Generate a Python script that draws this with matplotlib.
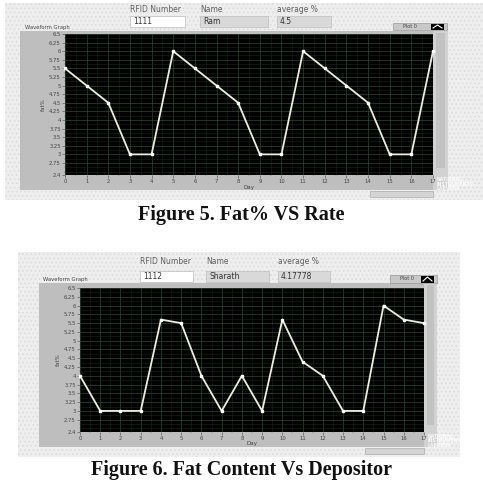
import matplotlib
matplotlib.use("Agg")
import matplotlib.pyplot as plt
from matplotlib.patches import Rectangle
from matplotlib.ticker import MultipleLocator

W = H = 483
fig = plt.figure(figsize=(4.83, 4.83), dpi=100)
fig.patch.set_facecolor("white")
plt.rcParams["hatch.linewidth"] = 0.6

days = list(range(18))
fat_ram = [5.5, 5.0, 4.5, 3.0, 3.0, 6.0, 5.5, 5.0, 4.5, 3.0, 3.0, 6.0, 5.5, 5.0, 4.5, 3.0, 3.0, 6.0]
fat_sharath = [4.0, 3.0, 3.0, 3.0, 5.6, 5.5, 4.0, 3.0, 4.0, 3.0, 5.6, 4.4, 4.0, 3.0, 3.0, 6.0, 5.6, 5.5]
yticks = [2.4, 2.75, 3, 3.25, 3.5, 3.75, 4, 4.25, 4.5, 4.75, 5, 5.25, 5.5, 5.75, 6, 6.25, 6.5]
ytick_labels = ["2.4", "2.75", "3", "3.25", "3.5", "3.75", "4", "4.25", "4.5", "4.75", "5", "5.25", "5.5", "5.75", "6", "6.25", "6.5"]

panels = [
    dict(rfid="1111", name="Ram", avg="4.5", data=fat_ram,
         caption="Figure 5. Fat% VS Rate",
         bg=(5, 3, 483, 200), frame=(20, 31, 448, 190), plot=(65, 34, 433, 175),
         hdr_y=10, box_y=(16, 27),
         rfid_x=(130, 185), name_x=(200, 268), avg_x=(277, 331),
         wf=(25, 27), legend=(393, 23, 447, 30), day_y=187, cap_y=215,
         scroll=(370, 191, 433, 197)),
    dict(rfid="1112", name="Sharath", avg="4.17778", data=fat_sharath,
         caption="Figure 6. Fat Content Vs Depositor",
         bg=(18, 252, 460, 457), frame=(39, 283, 437, 447), plot=(80, 288, 424, 432),
         hdr_y=262, box_y=(271, 282),
         rfid_x=(140, 193), name_x=(206, 269), avg_x=(278, 330),
         wf=(43, 280), legend=(390, 275, 437, 283), day_y=444, cap_y=470,
         scroll=(365, 448, 424, 454)),
]

ov = fig.add_axes([0, 0, 1, 1])
ov.set_xlim(0, W)
ov.set_ylim(H, 0)
ov.axis("off")
ov.set_zorder(0)

def rect(x0, y0, x1, y1, fc, ec="none", lw=0, **kw):
    ov.add_patch(Rectangle((x0, y0), x1 - x0, y1 - y0, facecolor=fc, edgecolor=ec, linewidth=lw, **kw))

for p in panels:
    bx0, by0, bx1, by1 = p["bg"]
    rect(bx0, by0, bx1, by1, "#eeeeee")
    rect(bx0, by0, bx1, by1, "none", ec="#dadada", lw=0, hatch="....")
    fx0, fy0, fx1, fy1 = p["frame"]
    rect(fx0, fy0, fx1, fy1, "#bebebe")
    px0, py0, px1, py1 = p["plot"]
    rect(px1, fy0, fx1, fy1, "#d2d2d2")
    rect(px1 + 3, fy0 + 2, fx1 - 3, fy1 - 22, "#c2c2c2")
    hy = p["hdr_y"]
    by_0, by_1 = p["box_y"]
    for (x0, x1), lab, val, fc in [(p["rfid_x"], "RFID Number", p["rfid"], "white"),
                                    (p["name_x"], "Name", p["name"], "#d9d9d9"),
                                    (p["avg_x"], "average %", p["avg"], "#d9d9d9")]:
        ov.text(x0, hy, lab, fontsize=5.5, color="#606060", va="center", ha="left")
        rect(x0, by_0, x1, by_1, fc, ec="#c4c4c4", lw=0.6)
        ov.text(x0 + 3, (by_0 + by_1) / 2, val, fontsize=5.5, color="#333333", va="center", ha="left")
    ov.text(p["wf"][0], p["wf"][1], "Waveform Graph", fontsize=3.8, color="#444444", va="center", ha="left")
    lx0, ly0, lx1, ly1 = p["legend"]
    rect(lx0, ly0, lx1, ly1, "#c8c8c8", ec="#9a9a9a", lw=0.5)
    ov.text(lx0 + 17, (ly0 + ly1) / 2, "Plot 0", fontsize=3.5, color="#444444", va="center", ha="center")
    rect(lx1 - 16, ly0 + 0.5, lx1 - 3, ly1 - 0.5, "black")
    ov.plot([lx1 - 14, lx1 - 9.5, lx1 - 5], [ly1 - 2, ly0 + 2, ly1 - 2], color="white", lw=0.8)
    ov.text((px0 + px1) / 2, p["day_y"], "Day", fontsize=4, color="#444444", ha="center", va="center")
    sx0, sy0, sx1, sy1 = p["scroll"]
    rect(sx0, sy0, sx1, sy1, "#d4d4d4", ec="#a0a0a0", lw=0.4)
    ov.text(px1 + 4, fy1 - 6, "NATIONAL\nINSTRUMENTS\nLABVIEW", fontsize=3.3, color="white",
            alpha=0.8, ha="left", va="center", fontweight="bold", linespacing=0.9)
    ov.text(W / 2, p["cap_y"], p["caption"], fontsize=14.5, fontweight="bold",
            family="Liberation Serif", ha="center", va="center", color="#111111")

    ax = fig.add_axes([px0 / W, 1 - py1 / H, (px1 - px0) / W, (py1 - py0) / H])
    ax.set_zorder(2)
    ax.set_facecolor("black")
    ax.set_xlim(0, 17)
    ax.set_ylim(2.4, 6.5)
    ax.set_xticks(days)
    ax.set_xticklabels([str(d) for d in days])
    ax.set_yticks(yticks)
    ax.set_yticklabels(ytick_labels)
    ax.xaxis.set_minor_locator(MultipleLocator(0.5))
    ax.yaxis.set_minor_locator(MultipleLocator(0.125))
    ax.grid(True, which="major", color="#2c4c30", lw=0.5)
    ax.grid(True, which="minor", color="#16281a", lw=0.4)
    ax.tick_params(axis="both", which="major", labelsize=3.8, colors="#444444", length=2, width=0.4, pad=1)
    ax.tick_params(axis="both", which="minor", length=1, width=0.3, color="#666666")
    for s in ax.spines.values():
        s.set_visible(False)
    ax.set_ylabel("fat%", fontsize=4, color="#444444", labelpad=2)
    ax.plot(days, p["data"], color="#eeeedd", lw=1.3, marker="s", markersize=1.6,
            markerfacecolor="white", markeredgecolor="white", clip_on=False, zorder=5)
    ax.set_axisbelow(True)

fig.savefig("out.png", dpi=100)
